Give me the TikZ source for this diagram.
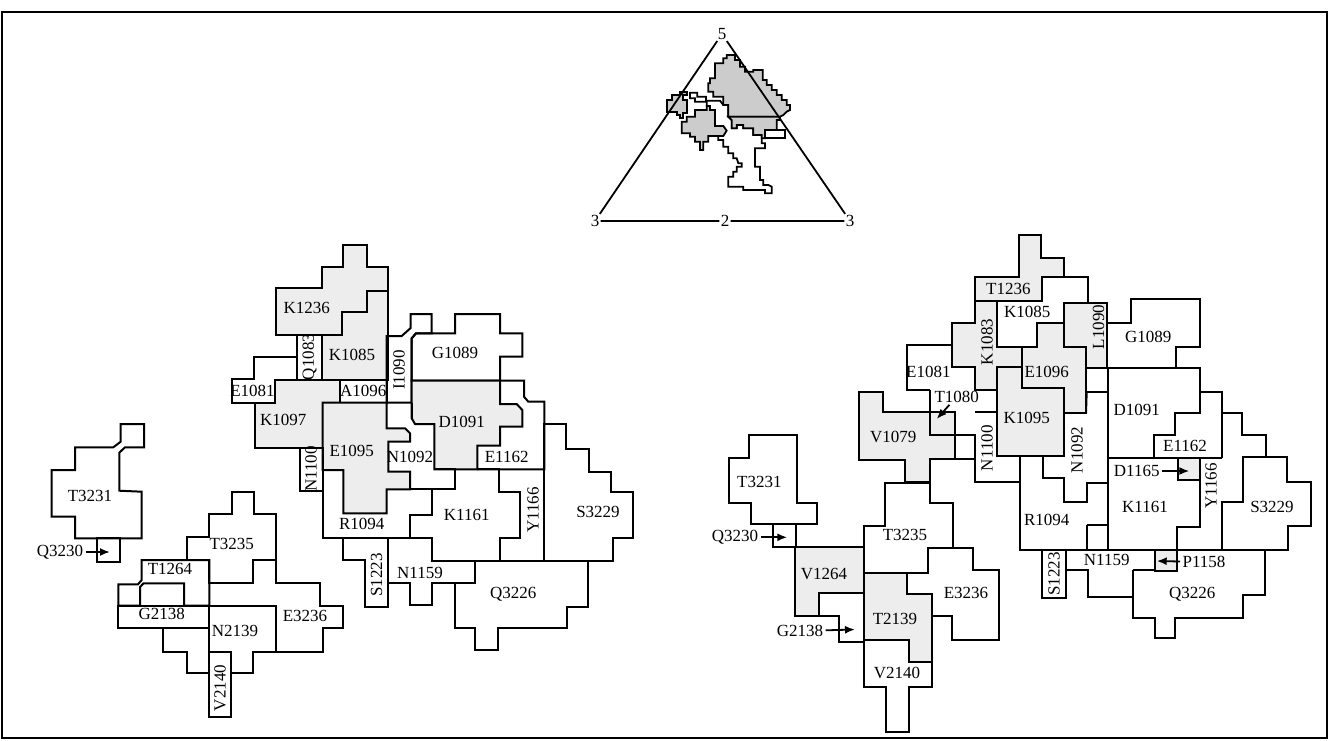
\documentclass[tikz,border=0pt]{standalone}
\usepackage{fontspec}
\setmainfont{Liberation Serif}
\usepackage{tikz}
\usetikzlibrary{
    arrows.meta,
    positioning
}
\tikzset{
    region/.style={
        draw=black,
        line width=1pt,
        line join=miter
    }
}
\tikzset{
    picked/.style={
        region,
        fill=gray!14
    }
}
\tikzset{
    blob/.style={
        draw=black,
        line width=0.9pt,
        fill=gray!40
    }
}
\tikzset{
    cell/.style={
        font=\fontsize{8.5}{9}\selectfont,
        inner sep=1pt
    }
}
\tikzset{
    vcell/.style={
        cell,
        rotate=90
    }
}
\tikzset{
    pointer/.style={
        draw=black,
        line width=0.9pt,
        -{Latex[length=5pt,width=4pt]}
    }
}
\tikzset{
    corner/.style={
        font=\fontsize{8.5}{9}\selectfont,
        inner sep=0.5pt
    }
}

\begin{document}
\begin{tikzpicture}[
    x=0.5pt,
    y=-0.5pt
]
\useasboundingbox (0,0) rectangle (1329,740);

% ------------------------------------------------------------
% Frame
% ------------------------------------------------------------

\draw[line width=0.8pt] (2,12) rectangle (1327,738);

% ------------------------------------------------------------
% Simplex with the projected regions
% ------------------------------------------------------------

\begin{scope}[shift={(580,0)}, scale=1/3]
\draw[region, line width=0.9pt, fill=white] (330,278) -- (352,278) -- (352,290) -- (378,290) -- (378,302) -- (420,302) -- (430,315) -- (445,315)
    -- (445,350) -- (455,360) -- (455,385) -- (470,385) -- (470,375) -- (490,375) -- (490,385) -- (520,385) -- (520,405) -- (545,405)
    -- (545,430) -- (555,430) -- (555,445) -- (525,445) -- (525,500) -- (540,500) -- (540,540) -- (550,540) -- (550,555) -- (565,555)
    -- (575,560) -- (575,580) -- (555,580) -- (555,570) -- (490,570) -- (490,560) -- (445,560) -- (445,530) -- (460,530) -- (460,515)
    -- (470,515) -- (470,500) -- (485,500) -- (485,490) -- (475,490) -- (470,475) -- (460,475) -- (460,460) -- (445,460) -- (445,440)
    -- (430,440) -- (430,420) -- (415,420) -- (415,408) -- (405,408) -- (405,330) -- (390,330) -- (390,318) -- (380,318) -- (380,305)
    -- (345,305) -- (345,295) -- (330,295) -- cycle;
\draw[region, line width=0.9pt, fill=white] (555,390) rectangle (615,415);
\draw[blob] (405,190) -- (430,190) -- (430,175) -- (440,175) -- (440,165) -- (465,165) -- (465,180) -- (480,180) -- (480,200) -- (495,200)
    -- (495,215) -- (520,215) -- (520,210) -- (548,210) -- (548,240) -- (560,240) -- (560,255) -- (575,255) -- (575,270) -- (590,270)
    -- (590,285) -- (605,285) -- (605,300) -- (620,300) -- (620,315) -- (630,315) -- (630,330) -- (620,335) -- (610,345) -- (600,350)
    -- (445,350) -- (445,315) -- (430,315) -- (430,290) -- (400,290) -- (400,275) -- (385,275) -- (385,250) -- (390,250) -- (390,235)
    -- (405,235) -- cycle;
\draw[blob] (445,350) -- (600,350) -- (600,360) -- (590,360) -- (590,390) -- (555,390) -- (555,415) -- (545,415) -- (545,405) -- (520,405)
    -- (520,385) -- (490,385) -- (490,375) -- (470,375) -- (470,385) -- (455,385) -- (455,360) -- cycle;
\draw[blob] (262,300) -- (275,300) -- (275,285) -- (300,285) -- (300,275) -- (320,275) -- (320,285) -- (310,285) -- (310,300) -- (322,300)
    -- (322,340) -- (310,340) -- (310,355) -- (300,355) -- (300,345) -- (290,345) -- (290,335) -- (262,335) -- cycle;
\draw[blob] (305,365) -- (320,365) -- (320,350) -- (345,350) -- (345,330) -- (380,330) -- (380,318) -- (390,318) -- (390,330) -- (405,330)
    -- (405,378) -- (430,378) -- (440,392) -- (430,408) -- (385,408) -- (385,425) -- (370,425) -- (370,450) -- (360,450) -- (360,425)
    -- (345,425) -- (345,410) -- (330,410) -- (330,400) -- (305,400) -- cycle;
\end{scope}

\node[corner] (apex) at (722,34) {5};
\node[corner] (lft)  at (595,221) {3};
\node[corner] (mid)  at (725,221) {2};
\node[corner] (rgt)  at (850,221) {3};
\draw[line width=0.9pt] (apex) -- (lft) -- (mid) -- (rgt) -- (apex);

% ------------------------------------------------------------
% Left map
% ------------------------------------------------------------

\draw[picked] (343.3,245) -- (366.7,245) -- (366.7,266.7) -- (387.7,266.7) -- (387.7,291) -- (366.7,291) -- (366.7,311.7) -- (341.7,311.7)
    -- (341.7,335) -- (276,335) -- (276,288) -- (321.7,288) -- (321.7,266.7) -- (343.3,266.7) -- cycle;
\draw[picked] (366.7,291) -- (387.7,291) -- (387.7,380) -- (321.7,380) -- (321.7,335) -- (341.7,335) -- (341.7,311.7) -- (366.7,311.7) -- cycle;
\draw[region] (297.3,335) rectangle (321.7,380);
\draw[region] (254.3,356.7) -- (297.3,356.7) -- (297.3,380) -- (275,380) -- (275,402.5) -- (231.7,402.5) -- (231.7,379) -- (254.3,379) -- cycle;
\draw[picked] (275,380) -- (340,380) -- (340,402.5) -- (322.7,402.5) -- (322.7,447.7) -- (255,447.7) -- (255,402.5) -- (275,402.5) -- cycle;
\draw[region] (340,380) rectangle (386.7,402.5);
\draw[region] (386.7,336) -- (401.7,336) -- (410.7,328) -- (410.7,314) -- (431.7,314) -- (431.7,333.3) -- (416,333.3) -- (411.7,338.3)
    -- (411.7,402.5) -- (386.7,402.5) -- cycle;
\draw[region] (411.7,338.3) -- (416,333.3) -- (455,333.3) -- (455,314) -- (500,314) -- (500,333.3) -- (522.3,333.3) -- (522.3,356.7)
    -- (500,356.7) -- (500,380.7) -- (411.7,380.7) -- cycle;
\draw[picked] (411.7,380.7) -- (500,380.7) -- (500,404) -- (516.7,404) -- (522.3,410) -- (522.3,426.7) -- (500,426.7) -- (500,445.7)
    -- (477.3,445.7) -- (477.3,469.3) -- (434.3,469.3) -- (434.3,424) -- (415,424) -- (411.7,418.3) -- cycle;
\draw[region] (500,380.7) -- (524,380.7) -- (524,396.7) -- (528.3,401.7) -- (544.3,401.7) -- (544.3,469.3) -- (477.3,469.3);
\draw[picked] (322.7,402.5) -- (386.7,402.5) -- (386.7,428.3) -- (405,428.3) -- (410,433.3) -- (410,441.7) -- (388.3,441.7) -- (388.3,471.7)
    -- (410,471.7) -- (410,489.3) -- (386.7,489.3) -- (386.7,513.3) -- (343.3,513.3) -- (343.3,470) -- (322.7,470) -- cycle;
\draw[region] (411.7,402.5) -- (411.7,418.3);
\draw[region] (434.3,469.3) -- (455,469.3) -- (455,489.3) -- (410,489.3);
\draw[region] (300,447.7) rectangle (322.7,490.7);
\draw[region] (322.7,470) -- (322.7,538.3) -- (410,538.3) -- (410,515) -- (431.7,515) -- (431.7,489.3);
\draw[region] (477.3,469.3) -- (499.3,469.3) -- (499.3,491.7) -- (520,491.7) -- (520,538.3) -- (500,538.3) -- (500,561) -- (431.7,561)
    -- (431.7,538.3) -- (410,538.3);
\draw[region] (544.3,469.3) -- (544.3,561) -- (500,561);
\draw[region] (544.3,424) -- (566,424) -- (566,449.3) -- (589.3,449.3) -- (589.3,471.7) -- (610.7,471.7) -- (610.7,491.7) -- (633.3,491.7)
    -- (633.3,538.3) -- (613.3,538.3) -- (613.3,561) -- (544.3,561) -- cycle;
\draw[region] (343.3,538.3) -- (388.3,538.3) -- (388.3,606.7) -- (365,606.7) -- (365,560) -- (343.3,560) -- cycle;
\draw[region] (388.3,538.3) -- (431.7,538.3) -- (431.7,561) -- (475,561) -- (475,583.3) -- (431.7,583.3) -- (431.7,605) -- (410,605)
    -- (410,583.3) -- (388.3,583.3);
\draw[region] (455,583.3) -- (475,583.3) -- (475,561) -- (588.3,561) -- (588.3,606.7) -- (566.7,606.7) -- (566.7,628.3) -- (498.3,628.3)
    -- (498.3,650) -- (475,650) -- (475,628.3) -- (455,628.3) -- cycle;

\draw[region] (120.7,424) -- (144,424) -- (144,447.3) -- (125,447.3) -- (119.3,452.7) -- (119.3,490.7) -- (141.7,491.7) -- (141.7,538.3)
    -- (75,538.3) -- (75,516.7) -- (51.7,516.7) -- (51.7,470) -- (75,470) -- (75,447.3) -- (113.3,447.3) -- (120.7,441.7) -- cycle;
\draw[region] (96.7,538.3) rectangle (120,561.7);
\draw[region] (231.7,491.7) -- (254,491.7) -- (254,514.3) -- (275.7,514.3) -- (275.7,560) -- (253.3,560) -- (253.3,583.3) -- (209.3,583.3)
    -- (209.3,560) -- (187.3,560) -- (187.3,536.7) -- (209.3,536.7) -- (209.3,514.3) -- (231.7,514.3) -- cycle;
\draw[region] (141.7,560) -- (209.3,560) -- (209.3,605.7) -- (184,605.7) -- (184,583.3) -- (143.5,583.3) -- (140,587) -- (140,605.7)
    -- (118.3,605.7) -- (118.3,584.3) -- (138,584.3) -- (141.7,580) -- cycle;
\draw[region] (118.3,605.7) rectangle (209.3,628.3);
\draw[region] (275.7,560) -- (275.7,583.3) -- (320,583.3) -- (320,605.7) -- (343.3,605.7) -- (343.3,628.3) -- (323.3,628.3) -- (323.3,651.7)
    -- (276,651.7) -- (276,605.7) -- (209.3,605.7);
\draw[region] (276,651.7) -- (253.3,651.7) -- (253.3,673.3) -- (230.7,673.3) -- (230.7,651.7) -- (209.3,651.7);
\draw[region] (209.3,628.3) -- (209.3,717.3) -- (230.7,717.3) -- (230.7,673.3);
\draw[region] (163.3,628.3) -- (163.3,651.7) -- (186.7,651.7) -- (186.7,672.7) -- (209.3,672.7);

\node[cell]  (lk1236) at (306.7,308.3) {K1236};
\node[cell]  (lk1085) at (352,355)     {K1085};
\node[vcell] (lq1083) at (309.5,357)   {Q1083};
\node[cell]  (le1081) at (252.5,391)   {E1081};
\node[cell]  (la1096) at (363.3,391)   {A1096};
\node[vcell] (li1090) at (399,370)     {I1090};
\node[cell]  (lg1089) at (455,353)     {G1089};
\node[cell]  (lk1097) at (283.3,420)   {K1097};
\node[cell]  (ld1091) at (461.7,421.7) {D1091};
\node[cell]  (le1095) at (351.7,450.7) {E1095};
\node[cell]  (ln1092) at (410,457.3)   {N1092};
\node[cell]  (le1162) at (506.7,457)   {E1162};
\node[vcell] (ln1100) at (311,469)     {N1100};
\node[vcell] (ly1166) at (533,510)     {Y1166};
\node[cell]  (lk1161) at (466.7,515)   {K1161};
\node[cell]  (ls3229) at (598,512)     {S3229};
\node[cell]  (lr1094) at (361.7,524)   {R1094};
\node[vcell] (ls1223) at (376.5,575)   {S1223};
\node[cell]  (ln1159) at (420,573)     {N1159};
\node[cell]  (lq3226) at (513.3,594)   {Q3226};
\node[cell]  (lt3231) at (90,496)      {T3231};
\node[cell]  (lq3230) at (60,552)      {Q3230};
\coordinate  (lq3230p) at (110,552);
\node[cell]  (lt3235) at (231.7,543.5) {T3235};
\node[cell]  (lt1264) at (170,569)     {T1264};
\node[cell]  (lg2138) at (161.7,614)   {G2138};
\node[cell]  (ln2139) at (235,631)     {N2139};
\node[cell]  (le3236) at (305,616)     {E3236};
\node[vcell] (lv2140) at (220,688)     {V2140};
\draw[pointer] (lq3230) -- (lq3230p);

% ------------------------------------------------------------
% Right map
% ------------------------------------------------------------

\draw[picked] (1019,235) -- (1040.7,235) -- (1040.7,257.7) -- (1064,257.7) -- (1064,277.3) -- (1041.7,277.3) -- (1041.7,301) -- (975,301)
    -- (975,277.3) -- (1019,277.3) -- cycle;
\draw[region] (1041.7,277.3) -- (1088,277.3) -- (1088,303.3);
\draw[picked] (975,301) -- (996.7,301) -- (996.7,346.7) -- (1021.7,346.7) -- (1021.7,366.7) -- (996.7,366.7) -- (996.7,390) -- (975,390)
    -- (975,366.7) -- (951.7,366.7) -- (951.7,323.3) -- (975,323.3) -- cycle;
\draw[picked] (1064,303.3) -- (1107.3,303.3) -- (1107.3,368.3) -- (1086,368.3) -- (1086,346.7) -- (1064,346.7) -- cycle;
\draw[picked] (1036.7,322.7) -- (1064,322.7) -- (1064,346.7) -- (1086,346.7) -- (1086,413.3) -- (1064,413.3) -- (1064,388.3) -- (1021.7,388.3)
    -- (1021.7,346.7) -- (1036.7,346.7) -- cycle;
\draw[picked] (996.7,366.7) -- (1021.7,366.7) -- (1021.7,388.3) -- (1064,388.3) -- (1064,456) -- (996.7,456) -- cycle;
\draw[region] (951.7,345) -- (906.7,345) -- (906.7,390) -- (930,390);
\draw[picked] (859.3,391.7) -- (882.7,391.7) -- (882.7,412.3) -- (955,412.3) -- (955,459.3) -- (930,459.3) -- (930,481.7) -- (905,481.7)
    -- (905,460) -- (859.3,460) -- cycle;
\draw[region] (930,390) -- (930,435) -- (975,435) -- (975,481.7) -- (1020,481.7);
\draw[region] (975,412.3) -- (996.7,412.3);
\draw[region] (955,459.3) -- (975,459.3);
\draw[region] (1107.3,322.7) -- (1130.7,322.7) -- (1130.7,299.3) -- (1200,299.3) -- (1200,346.7) -- (1176,346.7) -- (1176,368.3) -- (1107.3,368.3);
\draw[region] (1086,391.7) -- (1107.7,391.7);
\draw[region] (1107.7,368.3) -- (1107.7,550);
\draw[region] (1176,368.3) -- (1200,368.3) -- (1200,391.7) -- (1221.7,391.7) -- (1221.7,458.3);
\draw[region] (1200,391.7) -- (1200,413.3) -- (1175,413.3) -- (1175,435) -- (1154,435) -- (1154,458.3);
\draw[region] (1107.7,458.3) -- (1221.7,458.3);
\draw[region] (1221.7,391.7) -- (1221.7,413.3) -- (1241.7,413.3) -- (1241.7,435) -- (1265.7,435) -- (1265.7,456.7) -- (1243.3,456.7)
    -- (1243.3,501.7) -- (1221.7,501.7) -- (1221.7,550);
\draw[region] (1243.3,456.7) -- (1286.7,456.7) -- (1286.7,481.7) -- (1310.7,481.7) -- (1310.7,526) -- (1288,526) -- (1288,550) -- (1176.7,550);
\draw[region] (1200,458.3) -- (1200,527.3) -- (1176.7,527.3) -- (1176.7,550);
\draw[picked] (1178.3,458.3) rectangle (1200,480);
\draw[region] (1086,413.3) -- (1086.7,391.7);
\draw[region] (996.7,456) -- (996.7,412.3);
\draw[region] (1020,456) -- (1020,550) -- (1107.7,550);
\draw[region] (1042.7,456) -- (1042.7,478.3) -- (1064,478.3) -- (1064,501.7) -- (1086.7,501.7) -- (1086.7,482.7) -- (1107.7,482.7);
\draw[region] (1086.7,525) -- (1107.7,525);
\draw[region] (1086.7,525) -- (1086.7,550);
\draw[region] (1041.7,550) rectangle (1066,598.3);
\draw[region] (1066,570) -- (1088.3,570) -- (1088.3,596.7) -- (1132.7,596.7);
\draw[region] (1107.7,550) -- (1176.7,550);
\draw[region] (1132.7,570) -- (1155,570) -- (1155,550);
\draw[picked] (1155,550) rectangle (1176.7,570.7);
\draw[region] (1132.7,570) -- (1132.7,617.7) -- (1155,617.7) -- (1155,637.7) -- (1175,637.7) -- (1175,617.7) -- (1243.3,617.7) -- (1243.3,595)
    -- (1265,595) -- (1265,550);

\draw[region] (749.3,435) -- (796.7,435) -- (796.7,503.3) -- (817.3,503.3) -- (817.3,524) -- (750.7,524) -- (750.7,503.3) -- (729.3,503.3)
    -- (729.3,458.3) -- (749.3,458.3) -- cycle;
\draw[region] (772.7,524) rectangle (796,547.3);
\draw[picked] (795,547.3) -- (864,547.3) -- (864,593.3) -- (819.3,593.3) -- (819.3,616) -- (795,616) -- cycle;
\draw[region] (819.3,616) -- (839.3,616) -- (839.3,641.7) -- (864,641.7);
\draw[region] (885,482.7) -- (930,482.7) -- (930,502.7) -- (953.3,502.7) -- (953.3,548.3) -- (928.3,548.3) -- (928.3,573.3) -- (864,573.3)
    -- (864,526) -- (885,526) -- cycle;
\draw[picked] (864,573.3) -- (906.7,573.3) -- (906.7,594) -- (931.7,594) -- (931.7,661.7) -- (909.3,661.7) -- (909.3,640) -- (864,640) -- cycle;
\draw[region] (864,640) -- (864,686.7) -- (886,686.7) -- (886,731.7) -- (909.3,731.7) -- (909.3,686.7) -- (931.7,686.7) -- (931.7,661.7);
\draw[region] (928.3,548.3) -- (973.3,548.3) -- (973.3,570) -- (999.3,570) -- (999.3,640) -- (951.7,640) -- (951.7,616) -- (931.7,616);

\node[cell]  (rt1236) at (1008.3,289)  {T1236};
\node[cell]  (rk1085) at (1027.3,312)  {K1085};
\node[vcell] (rk1083) at (987,342)     {K1083};
\node[vcell] (rl1090) at (1098.5,327)  {L1090};
\node[cell]  (rg1089) at (1148.3,337)  {G1089};
\node[cell]  (re1081) at (928.3,372)   {E1081};
\node[cell]  (re1096) at (1046.7,372)  {E1096};
\node[cell]  (rt1080) at (956.7,396.7) {T1080};
\coordinate  (rt1080p) at (936.7,419);
\node[cell]  (rk1095) at (1026.7,418.3) {K1095};
\node[cell]  (rd1091) at (1136.7,410)  {D1091};
\node[cell]  (rv1079) at (893.3,437)   {V1079};
\node[vcell] (rn1100) at (987,448.3)   {N1100};
\node[vcell] (rn1092) at (1077,450)    {N1092};
\node[cell]  (re1162) at (1185,446)    {E1162};
\node[cell]  (rd1165) at (1136.7,471)  {D1165};
\coordinate  (rd1165p) at (1189.3,471);
\node[vcell] (ry1166) at (1211,486)    {Y1166};
\node[cell]  (rk1161) at (1145,507)    {K1161};
\node[cell]  (rs3229) at (1272,507)    {S3229};
\node[cell]  (rr1094) at (1046.7,520)  {R1094};
\node[vcell] (rs1223) at (1054,574)    {S1223};
\node[cell]  (rn1159) at (1106.7,560)  {N1159};
\node[cell]  (rp1158) at (1204,562)    {P1158};
\coordinate  (rp1158p) at (1156.7,561);
\node[cell]  (rq3226) at (1192.3,594)  {Q3226};
\node[cell]  (rt3231) at (759.3,482)   {T3231};
\node[cell]  (rq3230) at (735,537.3)   {Q3230};
\coordinate  (rq3230p) at (787.3,537.3);
\node[cell]  (rt3235) at (905,535)     {T3235};
\node[cell]  (rv1264) at (824,574)     {V1264};
\node[cell]  (rg2138) at (800,631)     {G2138};
\coordinate  (rg2138p) at (855,629.5);
\node[cell]  (rt2139) at (895,618.5)   {T2139};
\node[cell]  (re3236) at (966,593)     {E3236};
\node[cell]  (rv2140) at (897,672.5)   {V2140};
\draw[pointer] (rt1080) -- (rt1080p);
\draw[pointer] (rd1165) -- (rd1165p);
\draw[pointer] (rp1158) -- (rp1158p);
\draw[pointer] (rq3230) -- (rq3230p);
\draw[pointer] (rg2138) -- (rg2138p);

\end{tikzpicture}
\end{document}
